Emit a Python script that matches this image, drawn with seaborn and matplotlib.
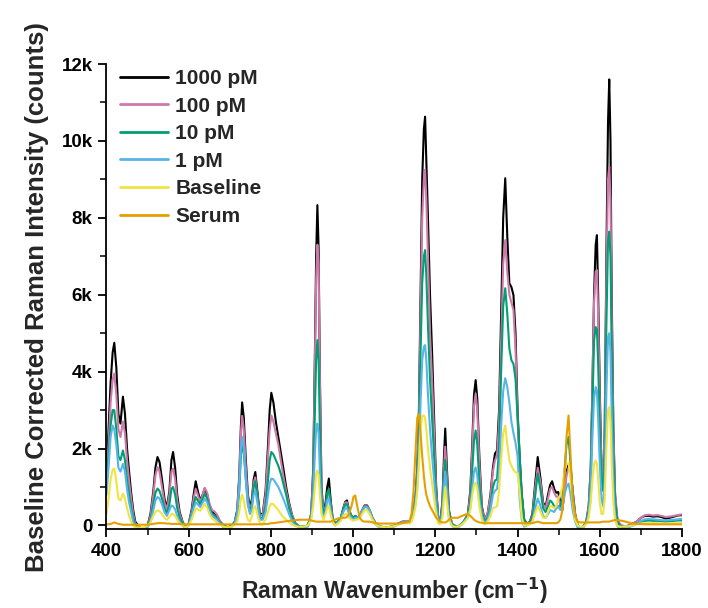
import numpy as np
import pandas as pd
import matplotlib
matplotlib.use("Agg")
import matplotlib.pyplot as plt
from matplotlib.ticker import MultipleLocator, FuncFormatter
import seaborn as sns

# Raman shift grid (cm^-1), denser around the bands
wavenumber = [
    400, 405, 410, 415, 419, 424, 429, 434, 440, 445, 450, 455, 460, 465, 470,
    480, 490, 500, 507, 514, 519, 524, 529, 535, 541, 547, 553, 558, 562, 567, 572, 578, 585, 592, 600,
    607, 612, 617, 622, 628, 634, 639, 645, 651, 657, 663, 669, 676, 685, 695, 705, 712,
    718, 723, 727, 730, 734, 739, 744, 749, 754, 758, 762, 767, 773, 780, 787, 793, 797, 801, 806, 812, 818, 824, 830, 837, 844, 852, 860, 870,
    880, 890, 898, 903, 907, 910, 913, 916, 919, 923, 928, 933, 937, 941, 945, 950, 956, 963, 970, 976, 981, 985, 990, 996, 1001, 1005, 1010, 1016, 1022, 1028, 1034, 1040, 1047, 1055, 1065, 1080, 1095, 1110, 1120, 1130,
    1137, 1142, 1147, 1152, 1156, 1160, 1164, 1168, 1172, 1175, 1178, 1182, 1187, 1192, 1197, 1202, 1207, 1212, 1217, 1221, 1224, 1228, 1233, 1240,
    1245, 1255, 1265, 1272, 1279, 1285, 1290, 1294, 1298, 1302, 1307, 1313, 1320, 1327, 1334, 1340, 1345, 1350, 1355, 1360, 1365, 1370, 1375, 1380, 1385, 1390, 1395, 1400, 1405, 1410, 1416, 1423, 1430,
    1436, 1442, 1449, 1456, 1462, 1468, 1474, 1479, 1484, 1489, 1494, 1499, 1504, 1509, 1514, 1519, 1524, 1529, 1534, 1540, 1546, 1553, 1560,
    1567, 1573, 1578, 1582, 1586, 1590, 1593, 1596, 1600, 1604, 1608, 1612, 1616, 1620, 1623, 1626, 1629, 1633, 1637, 1642, 1648, 1655, 1662, 1670, 1680, 1690, 1700, 1710, 1720, 1730, 1740, 1750, 1760, 1770, 1780, 1790, 1800,
]

# Baseline-corrected intensities (counts)
i_1000pM = [
    1400, 2500, 3700, 4500, 4750, 4100, 2900, 2650, 3350, 2900, 2000, 1400, 850, 400, 100,
    -50, -80, 0, 300, 900, 1500, 1780, 1650, 1200, 700, 450, 900, 1700, 1910, 1500, 800, 350, 100, -30, 50,
    400, 800, 1150, 900, 650, 800, 960, 800, 500, 350, 320, 250, 100, 0, -50, 0, 100,
    400, 1300, 2600, 3200, 2800, 1700, 800, 450, 700, 1200, 1390, 900, 300, 300, 900, 2100, 3000, 3450, 3200, 2700, 2300, 1900, 1500, 1000, 600, 250, 50, -30,
    -30, 0, 300, 1500, 4500, 7000, 8330, 7200, 4000, 1000, 300, 600, 1000, 1220, 700, 200, 50, 100, 200, 450, 620, 650, 400, 250, 200, 250, 200, 250, 400, 520, 520, 400, 200, 50, -30, -50, -30, 50, 100, 100,
    100, 200, 400, 800, 1500, 3000, 6000, 9000, 10300, 10630, 9500, 8000, 6000, 4500, 2800, 1000, 200, 100, 600, 1800, 2520, 1500, 400, 50,
    0, -30, 50, 150, 300, 900, 2200, 3400, 3780, 3300, 1800, 500, 150, 300, 800, 1500, 1870, 1950, 3000, 5500, 8000, 9030, 7500, 6300, 6200, 5990, 5000, 3000, 1800, 850, 150, 50, 100,
    300, 1000, 1780, 1200, 600, 480, 800, 1050, 1150, 950, 850, 870, 600, 400, 900, 1400, 1600, 1500, 900, 300, 0, -50, -30,
    100, 500, 1500, 3500, 6000, 7300, 7550, 6000, 3500, 1500, 1000, 2500, 7000, 10500, 11600, 10000, 6000, 2500, 800, 200, 0, -30, -50, 0, 50, 100, 200, 250, 250, 230, 240, 220, 180, 200, 230, 260, 270,
]
i_100pM = [
    1200, 2100, 3200, 3800, 3950, 3400, 2500, 2300, 2700, 2400, 1700, 1150, 700, 300, 50,
    -50, -80, 0, 250, 800, 1300, 1520, 1400, 1000, 600, 400, 800, 1400, 1480, 1200, 650, 300, 80, -30, 50,
    350, 700, 950, 800, 600, 800, 980, 850, 550, 400, 360, 280, 120, 0, -50, 0, 80,
    350, 1200, 2400, 2850, 2500, 1500, 700, 400, 600, 1100, 1250, 800, 250, 280, 800, 1800, 2500, 2860, 2700, 2400, 2100, 1700, 1300, 900, 550, 250, 50, -30,
    -30, 0, 300, 1400, 4200, 6400, 7300, 6800, 3800, 900, 300, 500, 800, 900, 600, 200, 50, 100, 200, 420, 600, 600, 400, 250, 200, 250, 200, 250, 400, 500, 500, 400, 200, 50, -30, -50, -30, 50, 100, 100,
    100, 200, 400, 800, 1400, 2800, 5500, 8000, 9000, 9250, 8500, 7000, 5000, 3800, 2400, 900, 200, 100, 500, 1500, 2050, 1300, 350, 50,
    0, -30, 50, 150, 280, 800, 2000, 3100, 3430, 3000, 1600, 450, 150, 300, 750, 1400, 1700, 1800, 2700, 4800, 6800, 7420, 6600, 6000, 5800, 5600, 4600, 2800, 1600, 700, 120, 50, 100,
    250, 900, 1500, 1100, 550, 450, 700, 950, 1000, 850, 750, 750, 550, 400, 800, 1300, 1500, 1500, 900, 300, 0, -50, -30,
    100, 500, 1500, 3600, 5800, 6600, 6640, 5500, 3200, 1500, 1200, 2600, 6500, 9000, 9330, 8500, 5500, 2500, 900, 250, 50, 0, -30, 0, 50, 100, 200, 270, 280, 260, 270, 250, 220, 230, 250, 270, 290,
]
i_10pM = [
    1000, 1800, 2600, 3000, 3000, 2500, 1800, 1700, 1950, 1700, 1200, 800, 450, 200, 0,
    -50, -80, 0, 150, 550, 850, 960, 900, 700, 450, 300, 550, 950, 1000, 800, 450, 200, 50, -50, 30,
    300, 550, 740, 650, 550, 700, 820, 700, 450, 300, 250, 180, 80, 0, -50, 0, 80,
    300, 900, 1800, 2100, 1900, 1200, 550, 350, 550, 1000, 1150, 750, 200, 200, 500, 1200, 1700, 1910, 1850, 1700, 1550, 1350, 1100, 800, 450, 200, 30, -30,
    -30, 0, 250, 1000, 3000, 4300, 4820, 4300, 2500, 700, 250, 450, 850, 950, 550, 150, 50, 100, 200, 400, 550, 550, 380, 250, 200, 250, 200, 250, 380, 480, 480, 380, 180, 40, -30, -50, -30, 40, 80, 80,
    80, 150, 350, 700, 1200, 2300, 4500, 6300, 7000, 7160, 6500, 5200, 3800, 2800, 1800, 700, 150, 80, 400, 1300, 1700, 1100, 300, 30,
    0, -30, 50, 150, 250, 600, 1500, 2200, 2470, 2100, 1100, 350, 100, 200, 500, 1000, 1170, 1200, 2000, 4000, 5700, 6170, 5500, 4600, 4300, 4200, 3800, 2800, 1800, 800, 150, 30, 80,
    200, 700, 1350, 900, 450, 350, 500, 650, 600, 500, 450, 500, 500, 700, 1400, 2100, 2300, 1600, 800, 250, 0, -50, -30,
    80, 400, 1300, 3000, 4800, 5160, 5100, 4200, 2500, 1200, 900, 2000, 5200, 7400, 7640, 7000, 4500, 2000, 700, 150, 0, -30, -50, -30, 0, 50, 100, 120, 130, 120, 120, 110, 100, 110, 120, 130, 130,
]
i_1pM = [
    800, 1500, 2300, 2600, 2500, 2100, 1500, 1400, 1600, 1400, 950, 600, 350, 100, -50,
    -80, -100, -50, 100, 400, 650, 740, 700, 550, 350, 250, 400, 520, 500, 420, 250, 100, 0, -80, 0,
    250, 450, 600, 550, 480, 600, 690, 600, 380, 250, 200, 150, 50, -50, -80, -30, 60,
    300, 1000, 2000, 2300, 2000, 1200, 550, 300, 450, 800, 900, 600, 150, 150, 350, 800, 1100, 1220, 1200, 1100, 1000, 850, 700, 500, 300, 100, 0, -50,
    -50, -30, 200, 800, 1900, 2500, 2650, 2400, 1400, 450, 200, 350, 650, 700, 400, 100, 0, 80, 150, 350, 450, 450, 300, 200, 150, 200, 200, 250, 380, 480, 480, 380, 180, 20, -50, -80, -50, 30, 80, 80,
    60, 120, 300, 600, 1000, 1800, 3200, 4300, 4650, 4690, 4300, 3400, 2500, 1800, 1200, 500, 100, 50, 300, 1000, 1400, 900, 200, 0,
    -50, -50, 30, 130, 200, 450, 1000, 1400, 1510, 1300, 700, 250, 50, 150, 400, 800, 900, 950, 1400, 2600, 3500, 3830, 3600, 3200, 2700, 2400, 2150, 1800, 700, 150, -30, 0, 50,
    100, 400, 700, 500, 250, 200, 300, 400, 380, 350, 450, 500, 400, 500, 800, 1000, 1090, 800, 400, 100, -50, -80, -50,
    50, 300, 1000, 2300, 3300, 3600, 3500, 2800, 1600, 700, 500, 1200, 3500, 4900, 5000, 4500, 2800, 1100, 300, 0, -80, -100, -80, -50, 0, 50, 120, 160, 170, 160, 150, 140, 130, 140, 150, 160, 170,
]
i_baseline = [
    300, 700, 1200, 1450, 1480, 1150, 700, 650, 830, 700, 450, 250, 100, 0, -50,
    -50, -50, 0, 80, 250, 350, 390, 370, 300, 200, 150, 220, 300, 300, 250, 150, 50, 0, -50, 0,
    150, 300, 440, 420, 380, 480, 560, 450, 280, 180, 130, 80, 20, -30, -50, -30, 30,
    100, 350, 700, 800, 650, 350, 150, 100, 250, 450, 500, 300, 50, 50, 150, 350, 500, 570, 550, 480, 400, 300, 220, 150, 80, 20, -20, -30,
    -30, 0, 150, 500, 1000, 1350, 1430, 1300, 800, 300, 150, 300, 450, 500, 300, 100, 0, 50, 120, 250, 300, 300, 200, 150, 120, 150, 150, 200, 300, 400, 400, 300, 150, 20, -30, -50, -30, 20, 60, 60,
    50, 100, 250, 500, 900, 1600, 2500, 2850, 2860, 2800, 2500, 2000, 1500, 1100, 700, 300, 50, 30, 200, 700, 1000, 600, 150, 0,
    -30, -30, 30, 100, 200, 400, 800, 1050, 1120, 950, 500, 150, 30, 100, 250, 450, 470, 500, 900, 1700, 2400, 2600, 2100, 1690, 1550, 1450, 1380, 1370, 900, 200, 0, 0, 30,
    100, 300, 500, 350, 200, 200, 350, 500, 500, 450, 500, 700, 800, 1000, 1400, 1600, 1630, 1200, 600, 150, 0, -30, -30,
    30, 200, 600, 1200, 1600, 1690, 1600, 1200, 600, 300, 300, 700, 2000, 3000, 3080, 2700, 1600, 600, 150, 0, -30, -30, -30, -20, 0, 30, 50, 60, 60, 60, 60, 50, 50, 50, 60, 60, 60,
]
i_serum = [
    30, 30, 40, 60, 80, 60, 40, 30, 20, 20, 20, 20, 20, 20, 20,
    20, 20, 20, 30, 40, 50, 60, 60, 60, 60, 50, 50, 40, 40, 40, 40, 40, 30, 30, 30,
    30, 30, 30, 30, 30, 30, 30, 30, 30, 30, 30, 30, 30, 30, 30, 30, 30,
    30, 30, 30, 30, 30, 30, 30, 30, 30, 30, 30, 30, 30, 30, 40, 40, 50, 60, 60, 70, 80, 90, 100, 110, 120, 130, 140, 150,
    150, 150, 130, 120, 110, 100, 100, 100, 100, 100, 100, 100, 100, 100, 100, 120, 150, 180, 200, 200, 200, 220, 300, 500, 750, 780, 500, 200, 120, 100, 100, 100, 80, 60, 50, 50, 50, 50, 60, 80,
    100, 300, 900, 2000, 2800, 2900, 2400, 1800, 1300, 1000, 800, 650, 500, 400, 300, 200, 150, 100, 80, 80, 80, 100, 150, 200,
    200, 200, 250, 280, 300, 250, 200, 150, 120, 100, 80, 70, 60, 60, 60, 60, 60, 60, 60, 60, 60, 60, 60, 60, 60, 60, 60, 60, 60, 60, 60, 60, 60,
    60, 80, 100, 80, 60, 60, 60, 60, 60, 60, 60, 80, 150, 400, 1200, 2300, 2860, 1800, 700, 250, 100, 80, 80,
    80, 80, 80, 80, 80, 80, 80, 80, 80, 90, 100, 100, 100, 100, 100, 110, 120, 130, 140, 140, 130, 120, 100, 80, 50, 40, 40, 30, 30, 30, 30, 30, 30, 30, 30, 30, 30,
]

series_labels = ["1000 pM", "100 pM", "10 pM", "1 pM", "Baseline", "Serum"]
series_colors = ["#000000", "#CC79A7", "#009E73", "#56B4E9", "#F0E442", "#E69F00"]
series_values = [i_1000pM, i_100pM, i_10pM, i_1pM, i_baseline, i_serum]

frames = []
for label, vals in zip(series_labels, series_values):
    frames.append(pd.DataFrame({"wavenumber": wavenumber, "intensity": vals, "sample": label}))
df = pd.concat(frames, ignore_index=True)

sns.set_theme(style="ticks")
plt.rcParams["font.family"] = ["Liberation Sans", "DejaVu Sans"]
plt.rcParams["font.weight"] = "bold"
plt.rcParams["mathtext.default"] = "bf"

fig = plt.figure(figsize=(7.08, 6.08), dpi=100)
ax = fig.add_axes([0.1504, 0.1294, 0.8129, 0.7653])

sns.lineplot(data=df, x="wavenumber", y="intensity", hue="sample",
             hue_order=series_labels, palette=dict(zip(series_labels, series_colors)),
             estimator=None, sort=False, linewidth=1.5, ax=ax)

ax.set_xlim(400, 1800)
ax.set_ylim(-100, 12000)
ax.xaxis.set_major_locator(MultipleLocator(200))
ax.xaxis.set_minor_locator(MultipleLocator(100))
ax.yaxis.set_major_locator(MultipleLocator(2000))
ax.yaxis.set_minor_locator(MultipleLocator(1000))
ax.yaxis.set_major_formatter(FuncFormatter(lambda v, p: "0" if v == 0 else f"{int(v/1000)}k"))

for s in ["top", "right"]:
    ax.spines[s].set_visible(False)
for s in ["left", "bottom"]:
    ax.spines[s].set_linewidth(1.3)
    ax.spines[s].set_color("black")
ax.tick_params(which="major", direction="out", length=6, width=1.3, labelsize=13.5,
               colors="black", pad=4)
ax.tick_params(which="minor", direction="out", length=4, width=1.1, colors="black")
for lbl in ax.get_xticklabels() + ax.get_yticklabels():
    lbl.set_fontweight("bold")

ax.set_xlabel("Raman Wavenumber (cm$^{-1}$)", fontsize=16.5, fontweight="bold", labelpad=11)
ax.set_ylabel("Baseline Corrected Raman Intensity (counts)", fontsize=18.5,
              fontweight="bold", labelpad=9)

leg = ax.legend(loc="upper left", bbox_to_anchor=(0.0235, 0.989), frameon=False,
                prop={"weight": "bold", "size": 15}, handlelength=2.3,
                handletextpad=0.35, labelspacing=0.41, borderaxespad=0.0, borderpad=0.0)
for line in leg.get_lines():
    line.set_linewidth(2.0)

fig.savefig("out.png", dpi=100)
